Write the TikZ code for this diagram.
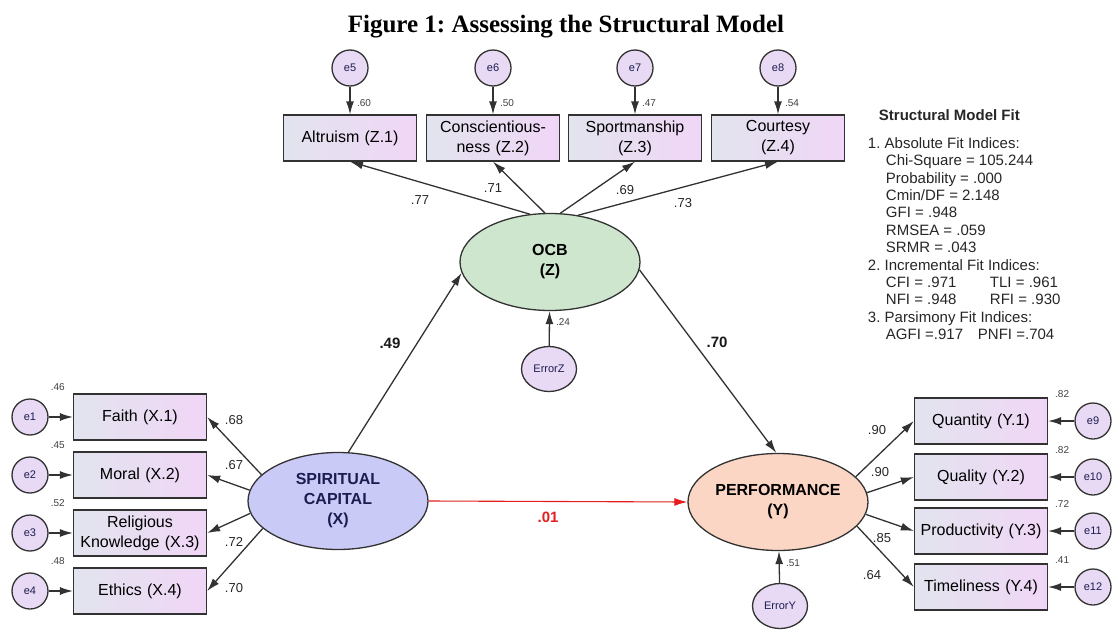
\documentclass[tikz,border=0pt]{standalone}
\usepackage{fontspec}
\setmainfont{Liberation Sans}
\newfontfamily\titlefont{Liberation Serif}
\usepackage{tikz}
\usetikzlibrary{arrows.meta,positioning,shapes.geometric,calc}
\definecolor{myboxleft}{RGB}{226,228,238}
\definecolor{myboxright}{RGB}{240,214,246}
\definecolor{mycircle}{RGB}{232,218,244}
\definecolor{mygreen}{RGB}{206,230,206}
\definecolor{mylavender}{RGB}{202,202,246}
\definecolor{mypeach}{RGB}{251,214,196}
\definecolor{myline}{RGB}{50,50,50}
\definecolor{myred}{RGB}{228,30,30}
\definecolor{mynavy}{RGB}{28,28,80}
\frenchspacing

\begin{document}
\begin{tikzpicture}[
  x=1pt, y=-1pt,
  line width=1.3pt,
  mybox/.style={
    draw=myline,
    rectangle,
    left color=myboxleft,
    right color=myboxright,
    minimum width=133pt,
    minimum height=46pt,
    text width=131pt,
    align=center,
    inner sep=0pt,
    font=\fontsize{16}{20}\selectfont
    },
  myerr/.style={
    draw=myline,
    circle,
    fill=mycircle,
    minimum size=36pt,
    inner sep=0pt,
    text=mynavy,
    font=\fontsize{11}{12}\selectfont
    },
  myres/.style={
    draw=myline,
    ellipse,
    fill=mycircle,
    minimum width=55pt,
    minimum height=45pt,
    inner sep=0pt,
    text=mynavy,
    font=\fontsize{11}{12}\selectfont
    },
  mylatent/.style={
    draw=myline,
    ellipse,
    minimum width=180pt,
    minimum height=97pt,
    inner sep=0pt,
    align=center,
    font=\bfseries\fontsize{16}{20}\selectfont
    },
  mypath/.style={draw=myline, -{Latex[length=13pt,width=8pt]}},
  mycoef/.style={text=black!85, font=\fontsize{13}{14}\selectfont},
  mybold/.style={text=black!90, font=\bfseries\fontsize{15}{16}\selectfont},
  myrsq/.style={text=black!75, font=\fontsize{10}{11}\selectfont}
]
\useasboundingbox (0,0) rectangle (1116,632);

\node[font=\titlefont\bfseries\fontsize{25}{28}\selectfont, anchor=base] (title) at (566,32) {Figure 1: Assessing the Structural Model};

\node[mylatent, fill=mygreen] (ocb) at (550,262) {OCB\\(Z)};
\node[mylatent, fill=mylavender, text=mynavy] (sc) at (338,501) {SPIRITUAL\\CAPITAL\\(X)};
\node[mylatent, fill=mypeach] (perf) at (778,502) {PERFORMANCE\\(Y)};

\node[myres] (errz) at (549,369) {ErrorZ};
\node[myres] (erry) at (780,606) {ErrorY};
\draw[mypath] (errz) -- (ocb);
\draw[mypath] (erry) -- (perf);
\node[myrsq] (rz) at (563,322) {.24};
\node[myrsq] (ry) at (793,563) {.51};

\foreach \Name/\Text/\Xpos/\Rsq/\Ang/\Lx/\Ly/\Val [count=\Idx from 5] in {
  alt/{Altruism (Z.1)}/350/.60/113/420/200/.77,
  con/{Conscientious-\\ness (Z.2)}/493/.50/96/493/188/.71,
  spo/{Sportmanship\\(Z.3)}/635/.47/78/625/190/.69,
  cou/{Courtesy\\(Z.4)}/778/.54/59/683/203/.73}
{
  \node[mybox] (\Name) at (\Xpos,138) {\Text};
  \node[myerr] (e\Idx) at (\Xpos,68) {e\Idx};
  \draw[mypath] (e\Idx) -- (\Name);
  \node[myrsq] (r\Name) at ($(\Name.north)+(14,-11)$) {\Rsq};
  \draw[mypath] (ocb.\Ang) -- (\Name.south);
  \node[mycoef] (l\Name) at (\Lx,\Ly) {\Val};
}

\foreach \Name/\Text/\Ypos/\Rsq/\Ang/\Ly/\Val [count=\Idx] in {
  fai/{Faith (X.1)}/417/.46/161/420/.68,
  mor/{Moral (X.2)}/475/.45/173/465/.67,
  rel/{Religious\\Knowledge (X.3)}/533/.52/188/542/.72,
  eth/{Ethics (X.4)}/591/.48/200/588/.70}
{
  \node[mybox] (\Name) at (140,\Ypos) {\Text};
  \node[myerr] (e\Idx) at (30,\Ypos) {e\Idx};
  \draw[mypath] (e\Idx) -- (\Name);
  \node[myrsq] (r\Name) at ($(\Name.north west)+(-15,-6)$) {\Rsq};
  \draw[mypath] (sc.\Ang) -- (\Name.east);
  \node[mycoef] (l\Name) at (234,\Ly) {\Val};
}

\foreach \Name/\Text/\Ypos/\Rsq/\Ang/\Lx/\Ly/\Val [count=\Idx from 9] in {
  qua/{Quantity (Y.1)}/421/.82/18/877/430/.90,
  qul/{Quality (Y.2)}/477/.82/6/880/472/.90,
  pro/{Productivity (Y.3)}/531/.72/-8/882/538/.85,
  tim/{Timeliness (Y.4)}/587/.41/-17/872/575/.64}
{
  \node[mybox] (\Name) at (981,\Ypos) {\Text};
  \node[myerr] (e\Idx) at (1093,\Ypos) {e\Idx};
  \draw[mypath] (e\Idx) -- (\Name);
  \node[myrsq] (r\Name) at ($(\Name.north east)+(14,-3)$) {\Rsq};
  \draw[mypath] (perf.\Ang) -- (\Name.west);
  \node[mycoef] (l\Name) at (\Lx,\Ly) {\Val};
}

\draw[mypath] (sc.78) -- (ocb.187);
\draw[mypath] (ocb.-5) -- (perf.92);
\draw[mypath, draw=myred, line width=1.1pt] (sc.east) -- (perf.west);
\node[mybold] (lsc) at (390,343) {.49};
\node[mybold] (lperf) at (717,342) {.70};
\node[mybold, text=myred] (lred) at (548,517) {.01};

\node[anchor=north west, align=left, text=black!85, font=\fontsize{15}{17.4}\selectfont] (fit) at (864,106)
  {
  \hspace*{11pt}\textbf{Structural Model Fit}\\[10pt]
  1. Absolute Fit Indices:\\
  \hspace*{18pt}Chi-Square = 105.244\\
  \hspace*{18pt}Probability = .000\\
  \hspace*{18pt}Cmin/DF = 2.148\\
  \hspace*{18pt}GFI = .948\\
  \hspace*{18pt}RMSEA = .059\\
  \hspace*{18pt}SRMR = .043\\
  2. Incremental Fit Indices:\\
  \hspace*{18pt}\makebox[104pt][l]{CFI = .971}TLI = .961\\
  \hspace*{18pt}\makebox[104pt][l]{NFI = .948}RFI = .930\\
  3. Parsimony Fit Indices:\\
  \hspace*{18pt}\makebox[92pt][l]{AGFI =.917}PNFI =.704
  };
\end{tikzpicture}
\end{document}
